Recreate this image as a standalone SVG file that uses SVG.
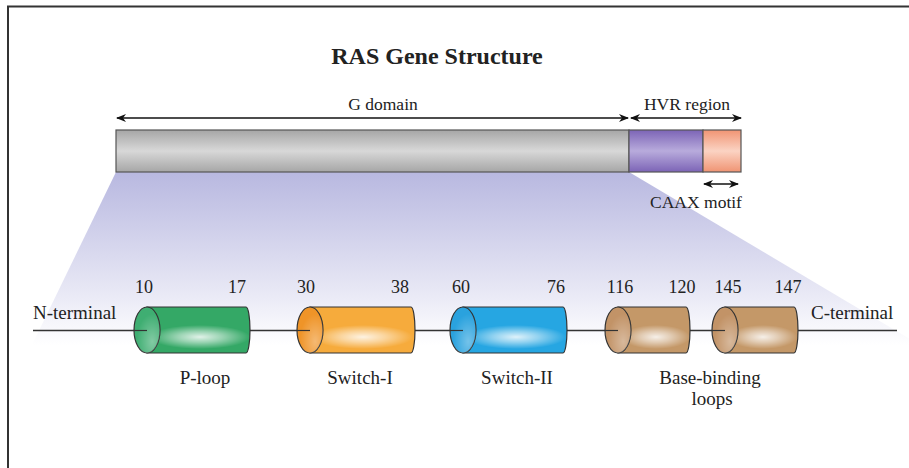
<svg xmlns="http://www.w3.org/2000/svg" width="909" height="468" viewBox="0 0 909 468">
<style>
text{font-family:"Liberation Serif","Times New Roman",serif;fill:#222}
.t{font-size:24px;font-weight:bold;text-anchor:middle}
.l{font-size:17.5px;text-anchor:middle}
.n{font-size:18px;text-anchor:middle}
.lb{font-size:19px;text-anchor:middle}
.term{font-size:19px}
.ol{stroke:#333;stroke-width:1.2}
.bar{stroke:#555;stroke-width:1.2}
.ax{stroke:#111;stroke-width:1.4;fill:none}
</style>
<defs>
<marker id="ah" viewBox="0 0 10 8" refX="9" refY="4" markerWidth="10" markerHeight="8" markerUnits="userSpaceOnUse" orient="auto-start-reverse">
<path d="M0,0 L10,4 L0,8 L3,4 Z" fill="#111"/>
</marker>
<linearGradient id="fan" x1="0" y1="0" x2="0" y2="1">
<stop offset="0" stop-color="#b8b8e0"/>
<stop offset="0.72" stop-color="#eaeaf6"/>
<stop offset="1" stop-color="#ffffff"/>
</linearGradient>
<linearGradient id="gGray" x1="0" y1="0" x2="0" y2="1">
<stop offset="0" stop-color="#a6a6a6"/><stop offset="0.5" stop-color="#d8d8d8"/><stop offset="1" stop-color="#a6a6a6"/>
</linearGradient>
<linearGradient id="gPur" x1="0" y1="0" x2="0" y2="1">
<stop offset="0" stop-color="#7c64b6"/><stop offset="0.5" stop-color="#b8abdc"/><stop offset="1" stop-color="#7c64b6"/>
</linearGradient>
<linearGradient id="gOra" x1="0" y1="0" x2="0" y2="1">
<stop offset="0" stop-color="#f09473"/><stop offset="0.5" stop-color="#fbd3c3"/><stop offset="1" stop-color="#f09473"/>
</linearGradient>
<radialGradient id="glow" cx="0.5" cy="0.5" r="0.5">
<stop offset="0" stop-color="#ffffff" stop-opacity="0.85"/>
<stop offset="0.45" stop-color="#ffffff" stop-opacity="0.5"/>
<stop offset="1" stop-color="#ffffff" stop-opacity="0"/>
</radialGradient>
<radialGradient id="capGlow" cx="0.7" cy="0.75" r="0.6">
<stop offset="0" stop-color="#ffffff" stop-opacity="0.35"/>
<stop offset="1" stop-color="#ffffff" stop-opacity="0"/>
</radialGradient>
</defs>

<rect x="0" y="0" width="909" height="468" fill="#ffffff"/>
<path d="M8,468 V6.5 H909" fill="none" stroke="#333" stroke-width="2"/>

<text class="t" x="437" y="64">RAS Gene Structure</text>

<polygon points="116,172 629,172 920,345 32,345" fill="url(#fan)"/>

<g id="gene-bar">
<rect class="bar" x="116" y="130" width="513" height="42" fill="url(#gGray)"/>
<rect class="bar" x="629" y="130" width="74" height="42" fill="url(#gPur)"/>
<rect class="bar" x="703" y="130" width="38" height="42" fill="url(#gOra)"/>
</g>

<g id="connectors">
<line class="ax" x1="117" y1="118" x2="628" y2="118" marker-start="url(#ah)" marker-end="url(#ah)"/>
<line class="ax" x1="631" y1="118" x2="741" y2="118" marker-start="url(#ah)" marker-end="url(#ah)"/>
<line class="ax" x1="704" y1="184" x2="738" y2="184" marker-start="url(#ah)" marker-end="url(#ah)"/>
<line x1="33" y1="330.5" x2="897" y2="330.5" stroke="#333" stroke-width="1.3"/>
</g>

<text class="l" x="383" y="110">G domain</text>
<text class="l" x="687" y="110">HVR region</text>
<text class="l" x="696" y="208">CAAX motif</text>

<text class="term" x="33" y="319">N-terminal</text>
<text class="term" x="811" y="319">C-terminal</text>

<g id="p-loop">
<path class="ol" d="M147,307 H246 A4 23 0 0 1 246,353 H147 Z" fill="#34a866"/>
<ellipse cx="200" cy="337" rx="50" ry="12" fill="url(#glow)"/>
<ellipse class="ol" cx="147" cy="330" rx="13" ry="23" fill="#3fae72"/>
<ellipse cx="147" cy="330" rx="13" ry="23" fill="url(#capGlow)"/>
<line x1="134" y1="330.5" x2="147" y2="330.5" stroke="#333" stroke-width="1.2"/>
<text class="n" x="144" y="293">10</text>
<text class="n" x="237" y="293">17</text>
<text class="lb" x="205" y="384">P-loop</text>
</g>

<g id="switch-i">
<path class="ol" d="M310,307 H411 A4 23 0 0 1 411,353 H310 Z" fill="#f6ab3c"/>
<ellipse cx="363" cy="337" rx="50" ry="12" fill="url(#glow)"/>
<ellipse class="ol" cx="310" cy="330" rx="13" ry="23" fill="#ef9428"/>
<ellipse cx="310" cy="330" rx="13" ry="23" fill="url(#capGlow)"/>
<line x1="297" y1="330.5" x2="310" y2="330.5" stroke="#333" stroke-width="1.2"/>
<text class="n" x="306" y="293">30</text>
<text class="n" x="400" y="293">38</text>
<text class="lb" x="360" y="384">Switch-I</text>
</g>

<g id="switch-ii">
<path class="ol" d="M463,307 H563 A4 23 0 0 1 563,353 H463 Z" fill="#26a6e2"/>
<ellipse cx="516" cy="337" rx="50" ry="12" fill="url(#glow)"/>
<ellipse class="ol" cx="463" cy="330" rx="13" ry="23" fill="#2aa2de"/>
<ellipse cx="463" cy="330" rx="13" ry="23" fill="url(#capGlow)"/>
<line x1="450" y1="330.5" x2="463" y2="330.5" stroke="#333" stroke-width="1.2"/>
<text class="n" x="461" y="293">60</text>
<text class="n" x="556" y="293">76</text>
<text class="lb" x="517" y="384">Switch-II</text>
</g>

<g id="base-binding-1">
<path class="ol" d="M618,307 H686 A4 23 0 0 1 686,353 H618 Z" fill="#c49868"/>
<ellipse cx="656" cy="337" rx="34" ry="12" fill="url(#glow)"/>
<ellipse class="ol" cx="618" cy="330" rx="13" ry="23" fill="#c29367"/>
<ellipse cx="618" cy="330" rx="13" ry="23" fill="url(#capGlow)"/>
<line x1="605" y1="330.5" x2="618" y2="330.5" stroke="#333" stroke-width="1.2"/>
<text class="n" x="620" y="293">116</text>
<text class="n" x="682" y="293">120</text>
</g>

<g id="base-binding-2">
<path class="ol" d="M725,307 H794 A4 23 0 0 1 794,353 H725 Z" fill="#c49868"/>
<ellipse cx="763" cy="337" rx="34" ry="12" fill="url(#glow)"/>
<ellipse class="ol" cx="725" cy="330" rx="13" ry="23" fill="#c29367"/>
<ellipse cx="725" cy="330" rx="13" ry="23" fill="url(#capGlow)"/>
<line x1="712" y1="330.5" x2="725" y2="330.5" stroke="#333" stroke-width="1.2"/>
<text class="n" x="728" y="293">145</text>
<text class="n" x="788" y="293">147</text>
</g>

<text class="lb" x="710" y="384">Base-binding</text>
<text class="lb" x="712" y="405">loops</text>
</svg>
